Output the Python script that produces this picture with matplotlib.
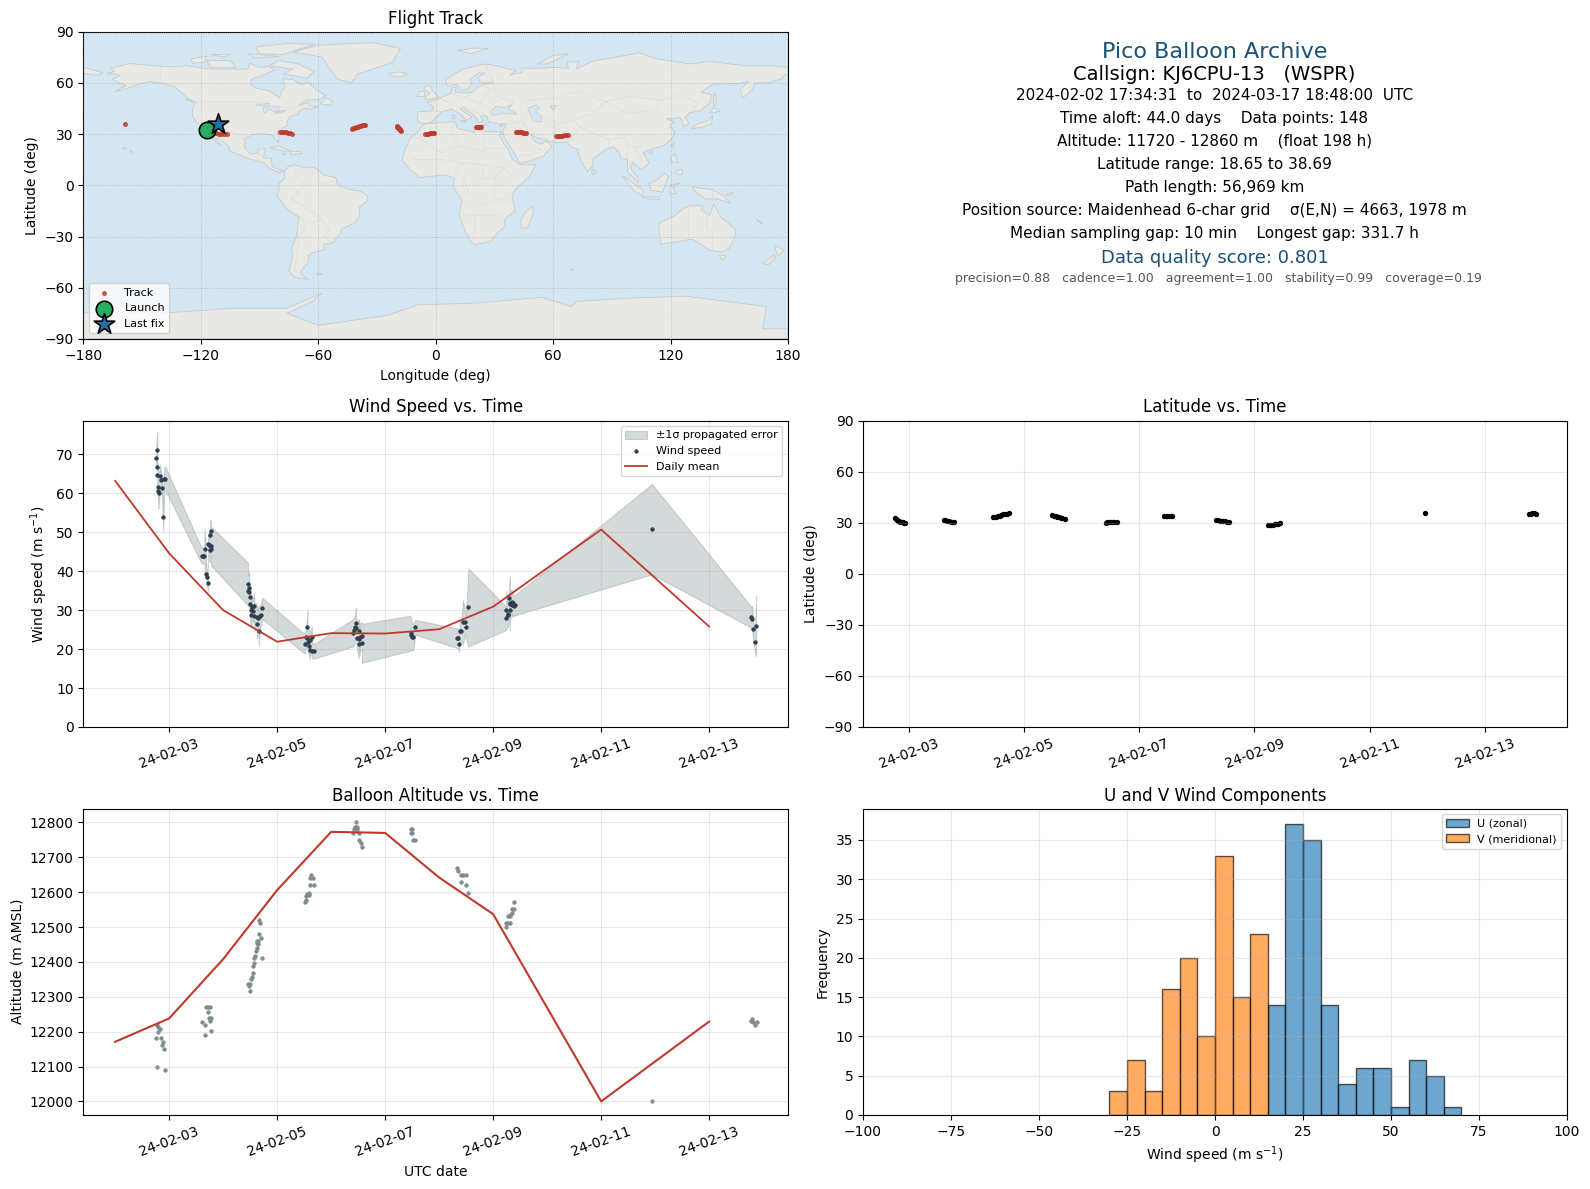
import datetime
import numpy as np
import matplotlib
matplotlib.use('Agg')
import matplotlib.pyplot as plt
import matplotlib.dates as mdates
from matplotlib.patches import Polygon

W, H = 1590, 1189

# wind speed points: day of February, speed, sigma
wind_day = [2.76, 2.78, 2.78, 2.78, 2.80, 2.80, 2.81, 2.83, 2.85, 2.87, 2.89, 2.91, 2.93,
            3.60, 3.62, 3.65, 3.66, 3.69, 3.70, 3.72, 3.72, 3.74, 3.75, 3.76, 3.77, 3.77, 3.78,
            4.46, 4.46, 4.48, 4.48, 4.50, 4.50, 4.51, 4.52, 4.53, 4.56, 4.57, 4.58, 4.62, 4.63,
            4.65, 4.66, 4.68, 4.70, 4.72,
            5.51, 5.54, 5.56, 5.56, 5.58, 5.59, 5.60, 5.60, 5.64, 5.65, 5.69,
            6.41, 6.43, 6.44, 6.46, 6.46, 6.48, 6.51, 6.52, 6.52, 6.54, 6.57, 6.57,
            7.47, 7.48, 7.50, 7.52, 7.56,
            8.33, 8.35, 8.37, 8.38, 8.41, 8.44, 8.48, 8.50, 8.54,
            9.24, 9.24, 9.27, 9.28, 9.30, 9.31, 9.31, 9.32, 9.34, 9.34, 9.36, 9.37, 9.39, 9.41,
            11.94,
            13.78, 13.80, 13.81, 13.85, 13.87]
wind_speed = [69.1, 71.2, 66.8, 64.8, 61.7, 60.7, 60.2, 64.5, 63.5, 61.4, 53.8, 63.8, 63.8,
              44.0, 44.0, 44.0, 45.8, 39.2, 38.4, 36.9, 46.9, 46.7, 45.4, 49.2, 50.3, 45.8, 46.4,
              36.7, 34.9, 35.8, 34.6, 33.3, 31.5, 30.1, 28.8, 30.9, 29.7, 31.0, 28.5, 28.2, 26.4,
              28.1, 24.7, 28.5, 28.7, 30.5,
              21.3, 23.2, 25.6, 22.8, 21.9, 20.7, 22.4, 19.8, 23.0, 19.6, 19.5,
              24.2, 24.9, 25.6, 26.6, 25.4, 22.9, 22.7, 24.7, 21.3, 23.2, 23.4, 21.5,
              24.1, 23.7, 23.2, 23.1, 25.6,
              22.8, 22.8, 21.3, 24.6, 24.6, 26.9, 26.9, 25.6, 30.7,
              27.9, 30.0, 28.8, 29.0, 33.0, 31.8, 30.0, 31.7, 32.2, 31.2, 31.9, 31.3, 31.1, 31.3,
              50.8,
              28.2, 27.8, 25.1, 21.8, 25.9]
wind_sigma = [2.5, 4.5, 3.0, 3.0, 5.6, 3.0, 3.0, 3.0, 2.0, 2.5, 3.7, 3.0, 3.0,
              2.0, 2.0, 2.0, 5.1, 2.0, 2.0, 2.1, 3.0, 3.0, 3.0, 3.0, 3.0, 3.0, 5.0,
              5.5, 4.0, 4.0, 3.5, 3.0, 4.0, 3.5, 3.5, 3.0, 3.0, 3.5, 3.5, 3.5, 3.5,
              3.0, 3.8, 3.0, 2.7, 2.7,
              2.5, 2.5, 4.3, 3.0, 3.0, 2.5, 2.5, 2.5, 3.0, 2.0, 1.9,
              3.5, 3.5, 3.0, 4.1, 3.5, 3.0, 5.0, 3.0, 3.0, 3.5, 3.5, 5.0,
              4.5, 4.0, 3.5, 3.4, 1.9,
              2.5, 2.5, 2.1, 2.5, 2.5, 5.7, 3.0, 3.0, 10.0,
              3.0, 4.9, 3.0, 3.0, 4.4, 7.0, 3.0, 3.5, 3.0, 3.0, 3.0, 2.8, 2.7, 2.6,
              11.6,
              2.7, 3.2, 2.5, 3.0, 7.7]

# daily means
wind_mean_day = [2, 3, 4, 5, 6, 7, 8, 9, 11, 13]
wind_mean = [63.2, 44.6, 30.0, 21.9, 24.1, 24.0, 25.1, 30.9, 50.7, 25.8]
alt_mean = [12171, 12238, 12408, 12606, 12773, 12770, 12642, 12537, 12000, 12229]

# altitude points
alt_day = [2.76, 2.78, 2.78, 2.80, 2.80, 2.83, 2.85, 2.87, 2.89, 2.91, 2.93,
           3.61, 3.66, 3.67, 3.68, 3.72, 3.72, 3.74, 3.76, 3.76, 3.78, 3.78,
           4.46, 4.48, 4.49, 4.50, 4.51, 4.53, 4.56, 4.56, 4.57, 4.57, 4.59, 4.60, 4.62, 4.62,
           4.63, 4.65, 4.65, 4.67, 4.67, 4.69, 4.70, 4.72,
           5.51, 5.53, 5.54, 5.56, 5.59, 5.59, 5.60, 5.61, 5.62, 5.67, 5.69,
           6.41, 6.43, 6.44, 6.46, 6.47, 6.48, 6.51, 6.52, 6.55, 6.57,
           7.47, 7.47, 7.49, 7.49, 7.52, 7.56,
           8.33, 8.35, 8.40, 8.41, 8.44, 8.49, 8.50, 8.54,
           9.23, 9.24, 9.27, 9.28, 9.31, 9.31, 9.31, 9.34, 9.35, 9.38, 9.38,
           11.94,
           13.78, 13.79, 13.81, 13.85, 13.88]
alt_m = [12181, 12219, 12100, 12212, 12200, 12209, 12181, 12162, 12169, 12149, 12089,
         12229, 12219, 12189, 12271, 12271, 12257, 12238, 12271, 12230, 12238, 12201,
         12338, 12331, 12338, 12318, 12350, 12357, 12389, 12369, 12410, 12396, 12418, 12431, 12461, 12453,
         12441, 12461, 12451, 12520, 12479, 12511, 12470, 12410,
         12571, 12579, 12589, 12595, 12599, 12592, 12620, 12640, 12648, 12640, 12620,
         12769, 12780, 12788, 12800, 12780, 12788, 12769, 12750, 12740, 12729,
         12781, 12769, 12781, 12769, 12749, 12749,
         12668, 12660, 12648, 12628, 12648, 12648, 12620, 12599,
         12511, 12500, 12531, 12511, 12535, 12531, 12511, 12540, 12552, 12572, 12552,
         12000,
         12231, 12235, 12227, 12219, 12229]

# track: day of February, latitude, longitude
track_day = [2.76, 2.78, 2.80, 2.82, 2.84, 2.86, 2.88, 2.90, 2.92, 2.94,
             3.61, 3.64, 3.67, 3.70, 3.73, 3.76, 3.78,
             4.46, 4.49, 4.52, 4.55, 4.58, 4.61, 4.64, 4.67, 4.70, 4.74,
             5.49, 5.52, 5.55, 5.58, 5.61, 5.64, 5.67, 5.71,
             6.42, 6.45, 6.48, 6.51, 6.54, 6.57, 6.61,
             7.43, 7.46, 7.49, 7.52, 7.55, 7.57,
             8.34, 8.37, 8.40, 8.43, 8.46, 8.49, 8.52, 8.56,
             9.23, 9.26, 9.29, 9.32, 9.35, 9.38, 9.41, 9.44,
             11.95,
             13.76, 13.79, 13.82, 13.85, 13.89]
track_lat = [32.5, 32.1, 31.6, 31.1, 30.7, 30.4, 30.2, 30.1, 30.0, 30.0,
             31.4, 31.3, 31.1, 30.9, 30.6, 30.4, 30.2,
             33.1, 33.3, 33.6, 33.9, 34.2, 34.5, 34.8, 35.0, 35.3, 35.5,
             34.5, 34.2, 33.9, 33.6, 33.2, 32.9, 32.6, 32.0,
             30.0, 30.1, 30.2, 30.4, 30.5, 30.5, 30.6,
             34.0, 34.1, 34.2, 34.2, 34.1, 34.0,
             31.4, 31.3, 31.2, 31.1, 31.0, 30.8, 30.6, 30.4,
             28.6, 28.7, 28.8, 28.9, 29.1, 29.3, 29.4, 29.6,
             35.9,
             35.3, 35.3, 35.4, 35.4, 35.3]
track_lon = [-116.9, -116.0, -115.0, -114.0, -113.0, -112.0, -110.5, -109.5, -108.0, -106.6,
             -79.6, -78.6, -77.6, -76.6, -75.5, -74.4, -73.3,
             -42.7, -42.0, -41.2, -40.5, -39.8, -39.0, -38.3, -37.5, -36.8, -36.0,
             -20.0, -19.7, -19.4, -19.0, -18.7, -18.3, -18.0, -17.5,
             -5.2, -4.5, -3.8, -3.0, -2.2, -1.4, -0.6,
             20.6, 21.0, 21.5, 22.0, 22.5, 23.0,
             41.0, 41.8, 42.5, 43.2, 44.0, 44.7, 45.5, 46.3,
             61.5, 62.4, 63.2, 64.0, 64.8, 65.6, 66.5, 67.5,
             -158.8,
             -114.0, -113.2, -112.3, -111.5, -111.1]
launch_lon, launch_lat = -116.9, 32.3
last_lon, last_lat = -111.1, 35.7

# histogram counts
u_left = [15, 20, 25, 30, 35, 40, 45, 50, 55, 60, 65]
u_count = [14, 37, 35, 14, 4, 6, 6, 1, 7, 5, 1]
v_left = [-30, -25, -20, -15, -10, -5, 0, 5, 10]
v_count = [3, 7, 3, 16, 20, 10, 33, 15, 23]

# coarse coastlines (lon, lat)
north_america = [(-168, 65.5), (-164, 66.5), (-166, 68.5), (-156.5, 71.3), (-141, 69.7), (-135, 69.3), (-128, 70),
                 (-115, 68), (-108, 68), (-96, 68), (-95, 71.5), (-90, 69), (-85, 69.5), (-82, 67.5), (-87, 65),
                 (-94, 62), (-94.5, 58.8), (-92, 57), (-85, 55.3), (-82, 53), (-80, 51.3), (-79, 52.5), (-79, 55),
                 (-77, 57), (-78, 62.3), (-73, 62), (-69, 59), (-65, 60.2), (-61, 56), (-56, 52.5), (-60, 50),
                 (-66, 50), (-70, 47), (-65, 48.5), (-64.5, 46.5), (-60, 46), (-64, 44.5), (-67, 45), (-70, 43.5),
                 (-70, 41.7), (-74, 40.5), (-76, 37), (-75.5, 35.3), (-81, 31.5), (-80, 27), (-80.5, 25.2), (-82, 27),
                 (-83, 29.2), (-85, 29.7), (-89, 30.2), (-94, 29.5), (-97.3, 27.5), (-97.7, 22.3), (-95, 18.7),
                 (-91, 18.7), (-90.5, 21), (-87, 21.5), (-88, 16), (-84, 15.8), (-83.5, 11), (-80, 9), (-77.3, 8.6),
                 (-80, 7.3), (-85, 10), (-87.5, 13), (-92, 14.5), (-96, 15.8), (-105, 20), (-105.5, 22.5), (-109, 26),
                 (-112.5, 30), (-114.7, 31.7), (-112.5, 27.5), (-109.7, 23), (-112, 25), (-115, 29), (-117, 32.5),
                 (-120.5, 34.5), (-122.5, 37.5), (-124.3, 40.3), (-124, 46), (-122.5, 48.5), (-127, 51), (-130, 54.5),
                 (-134, 58), (-140, 59.7), (-146, 60.8), (-152, 59), (-158, 56.5), (-164, 54.7), (-158, 58.5),
                 (-162, 60), (-165, 62), (-161, 64.5)]
south_america = [(-77.3, 8.6), (-75, 11), (-72, 12), (-68, 10.5), (-62, 10.5), (-57, 6), (-51, 4.5), (-50, 0),
                 (-44, -2.5), (-38, -3.5), (-35, -6), (-35, -9), (-39, -13), (-39, -18), (-41, -22), (-48, -25.5),
                 (-48.5, -28), (-53, -34), (-57, -34.5), (-57, -38), (-62, -39), (-65, -41), (-65, -45), (-69, -50.5),
                 (-68, -53), (-65, -55), (-72, -54), (-75, -50), (-73, -42), (-73.5, -37), (-71, -30), (-70, -18.5),
                 (-76, -14), (-81, -6), (-80, -2), (-80, 1), (-77, 4)]
africa = [(-6, 35.8), (3, 36.8), (10, 37.3), (11, 33.5), (15, 32.3), (20, 31), (20, 32.8), (25, 31.6), (32, 31.2),
          (34.2, 31.2), (32.5, 29.5), (35, 24), (37, 21), (39, 15.5), (43, 12), (51, 12), (48, 5), (41, -2), (39, -6),
          (40.5, -15), (35, -20), (35.5, -24), (32.5, -27), (28, -33), (20, -34.8), (18, -33), (15, -27), (12, -17),
          (13.5, -9), (9, -1), (9.5, 4), (5, 6), (-4, 5), (-8, 4.5), (-13, 9), (-17, 14.7), (-16, 20), (-13, 27.5),
          (-9.5, 31)]
eurasia = [(-9, 37), (-9.5, 39), (-9, 43), (-2, 43.5), (-1, 46), (-4.5, 48.5), (1.5, 50.5), (4, 52), (8, 54), (8.5, 57),
           (10.5, 57.5), (10, 54.5), (14, 54), (19, 54.5), (21, 57), (24, 59), (29.5, 60), (23, 60), (21.5, 63),
           (25, 65.5), (22, 65.8), (17.5, 62), (18.5, 59.5), (16.5, 56.5), (13, 55.5), (11, 59), (6, 58), (5, 62),
           (14, 68), (25, 71), (31, 70), (41, 67), (38, 64.5), (44, 66), (44, 68.5), (54, 68.5), (60, 69), (68, 68.5),
           (67, 72), (73, 72.5), (72, 68), (80, 72.5), (104, 77.5), (113, 74), (130, 71), (140, 72.5), (160, 69.7),
           (170, 70), (180, 69), (180, 65), (178, 64.5), (177, 62.5), (170, 60), (163, 60), (162, 56), (156.7, 51),
           (155.5, 56), (160, 61), (155, 59.5), (142, 59.3), (135.5, 54.5), (141, 53), (140, 48), (135, 43.5),
           (130, 42.5), (127.5, 39.8), (129.5, 36), (126.5, 34.5), (126, 37.5), (125, 39.5), (121.5, 39), (118, 39),
           (122, 37), (119.5, 35), (122, 31), (121, 28), (117, 23.5), (110, 21), (106, 19), (109, 13), (105, 9),
           (103, 11), (100.5, 13.5), (99.5, 10), (103.5, 4), (103.5, 1.5), (100.5, 5), (98, 8), (98, 15), (94.5, 16),
           (94, 19), (91, 22.5), (87, 21), (80.5, 15.5), (80, 11), (77.5, 8), (73.5, 16), (72.7, 21), (69, 22.5),
           (67, 25), (61.5, 25), (57, 26), (56, 27), (52, 27.5), (48.5, 30), (50, 26.5), (51.5, 25), (54, 24),
           (56.5, 26), (59.5, 22.5), (55, 17), (45, 13), (43, 13), (39, 21), (35, 28), (34.9, 29.5), (34.2, 31.2),
           (36, 36), (32, 36), (27, 37), (26.5, 39.5), (26, 40.5), (23, 40.5), (24, 38), (22.5, 36.5), (19.5, 41),
           (14, 45.5), (12.5, 44.5), (18.5, 40), (16, 38), (12, 42), (8.5, 44.5), (3, 43), (0, 39.5), (-2, 37),
           (-5.5, 36)]
greenland = [(-73, 78), (-60, 82), (-32, 83.5), (-18, 80), (-22, 72), (-32, 68), (-40, 65), (-43, 60), (-50, 62), (-54, 68), (-58, 75)]
australia = [(114, -22), (122, -18), (126, -14), (130, -12), (136, -12), (136, -15), (140, -17.5), (142, -11), (146, -19),
             (153, -25.5), (153, -30), (150, -37), (146, -39), (140, -38), (136, -35), (131, -31.5), (124, -33), (115, -34.5), (114, -26)]
antarctica = [(-180, -90), (-180, -74.5), (-135, -74.5), (-103, -72), (-76, -72), (-62, -65), (-58, -63), (-63, -68),
              (-76, -75), (-60, -82), (-24, -76), (-9, -70), (20, -69), (54, -65.6), (69.5, -71), (72, -68), (100, -66),
              (128, -65), (169, -71), (167, -84), (180, -84), (180, -90)]
islands = [
    [(-80, 73), (-70, 71), (-62, 66.5), (-66, 62.5), (-72, 64), (-78, 65), (-73, 68), (-85, 70)],
    [(-117, 73), (-105, 73), (-102, 69), (-115, 69)],
    [(-90, 77), (-78, 76.5), (-62, 82.5), (-75, 83), (-92, 81)],
    [(-125, 74), (-117, 75.5), (-118, 72), (-124, 71.5)],
    [(-96, 77), (-80, 75.5), (-92, 74.5)],
    [(-115, 76.5), (-105, 76.5), (-108, 75)],
    [(-59, 47.7), (-53, 46.7), (-53, 49.5), (-56, 51.5)],
    [(-128, 50.5), (-124, 48.5), (-125, 50)],
    [(-85, 22), (-80, 23), (-74, 20), (-78, 20)],
    [(-74, 19.8), (-69, 19.8), (-68.5, 18.5), (-74, 18)],
    [(-78.3, 18.4), (-76.3, 18.2), (-77, 17.8)],
    [(-5.5, 50), (1.5, 51.2), (0, 53.5), (-2, 56), (-2, 57.6), (-5, 58.6), (-6, 56), (-3, 54), (-5, 52)],
    [(-10, 52), (-6, 52), (-6, 55), (-8.5, 55)],
    [(-24, 65.5), (-18, 66.4), (-14, 65), (-18, 63.4), (-22.5, 64)],
    [(11, 79), (20, 80.3), (27, 80), (18, 77)],
    [(52, 71), (57, 71), (68, 77), (60, 76)],
    [(12.5, 38), (15.5, 38), (15, 36.7)],
    [(8.3, 41), (9.7, 41), (9.5, 39), (8.5, 39)],
    [(23.5, 35.5), (26, 35.2), (24, 34.9)],
    [(32.5, 35), (34.5, 35.6), (33.5, 34.6)],
    [(130.5, 33), (136, 34), (141, 36), (141.5, 41), (139.5, 38), (133, 35.5)],
    [(140, 42), (145.5, 43.5), (142, 45.5)],
    [(142, 46), (143.5, 49), (143, 54), (142, 52)],
    [(120, 23), (121, 22), (122, 25)],
    [(109, 19.5), (111, 20), (110, 18.3)],
    [(120, 16), (122, 18.5), (124, 13), (120.5, 14)],
    [(122, 7), (126, 6), (126, 9.5), (123, 8.5)],
    [(80, 9.5), (82, 7.5), (80.5, 6), (79.7, 8)],
    [(95.5, 5.5), (100, 2), (106, -3), (105.5, -6), (101, -3)],
    [(105.5, -6.5), (114, -7), (114.5, -8.5), (106, -7.5)],
    [(109, 1), (113, 3), (117, 7), (119, 5), (117.5, 1), (116, -4), (110, -3)],
    [(119.5, -5), (120, 0), (125, 1.5), (121, -1), (123, -5)],
    [(131, -1), (141, -2.5), (147, -6), (150.5, -10.5), (144, -8), (138, -8), (133, -4)],
    [(148, -5.5), (152, -4), (151, -6)],
    [(145, -41), (148, -41), (147.5, -43.5), (146, -43.5)],
    [(173, -35), (178, -38), (175, -41.5), (174, -39)],
    [(172.5, -41), (174, -42), (170, -46.5), (167, -46)],
    [(165, -21), (167, -22.3), (164, -20)],
    [(49.5, -12), (50, -16), (47, -25), (44, -25), (43.5, -21), (46, -15.5)],
    [(-61, -51.5), (-58, -51.5), (-58.5, -52.3), (-61, -52)],
    [(-156.2, 20.2), (-155, 19.6), (-155.8, 19)],
    [(-160, 22), (-157.8, 21.5), (-158.5, 21.2)],
    [(-180, 69), (-170, 66), (-173, 64.3), (-180, 65.5)],
    [(69, -49), (70.5, -49.2), (69.5, -49.8)],
]
inland_seas = [
    [(28, 43), (30.5, 46), (33, 46), (35, 45.5), (39, 47), (37, 45), (41.5, 41.5), (35, 42), (29, 41)],
    [(47, 45), (51, 47), (53, 45), (51, 43), (54, 40), (54, 37), (50, 37.5), (49, 40)],
    [(-92, 47), (-85, 48), (-85, 46.5), (-88, 46.5)],
    [(-88, 45.5), (-85, 46), (-80, 46), (-80, 43.5), (-83, 43), (-85, 45), (-87, 42), (-88, 43)],
    [(-83, 42), (-79, 43.5), (-76, 44), (-79, 42.5)],
    [(58.5, 46.5), (61.5, 46.5), (60, 44)],
]
borders = [
    [(-123, 49), (-95, 49), (-83, 46), (-75, 45), (-67, 47)], [(-141, 70), (-141, 60)],
    [(-117, 32.5), (-106.5, 31.7), (-101, 29.5), (-97.3, 26)], [(-92, 14.5), (-91, 18), (-88, 18)],
    [(-72, 12), (-72, 7), (-67, 1), (-70, -4), (-74, -8), (-69, -11), (-58, -20), (-54, -26), (-57, -30), (-53, -34)],
    [(-80, -3), (-75, -1), (-70, -4)], [(-70, -18), (-66, -22), (-70, -32), (-72, -50), (-68, -53)],
    [(-60, 8), (-60, 1), (-52, 2)], [(-58, -20), (-62, -22), (-66, -22)],
    [(-8.7, 27.5), (-3, 31), (-2, 35)], [(-13, 27.5), (-8.7, 27.5), (-5, 25), (3, 19), (12, 23), (25, 20), (25, 31.6)],
    [(-12, 15), (-5, 15), (3, 15), (14, 13), (24, 12), (34, 10), (41, 4)], [(9, 37), (8, 31), (12, 23)],
    [(25, 22), (37, 22)], [(14, 13), (9, 4)], [(24, 12), (24, 4), (30, 4), (34, 10)], [(14, 5), (17, -5), (13, -6)],
    [(12, -17), (24, -18), (35, -17)], [(20, -18), (20, -28), (17, -29)], [(30, -8), (40, -10)], [(30, 4), (30, -8), (24, -12)],
    [(-2, 43.5), (3, 43)], [(2, 51), (8, 48), (7, 44)], [(8, 54), (15, 51), (19, 54.5)], [(15, 51), (23, 48), (28, 45)],
    [(24, 59), (28, 56), (24, 51), (23, 48)], [(29.5, 60), (31, 52), (40, 49), (38, 47)], [(13, 47), (22, 42), (26, 41)],
    [(25, 71), (29, 62), (29.5, 60)], [(47, 50), (62, 51), (72, 55), (87, 49)], [(54, 41), (62, 36), (70, 38), (80, 42), (87, 49)],
    [(87, 49), (98, 52), (116, 50), (125, 53), (134, 48), (131, 43)], [(87, 49), (98, 42), (112, 44), (116, 50)],
    [(44, 39), (46, 35), (48.5, 30)], [(36, 36), (44, 37), (46, 35)], [(36, 33), (41, 32), (47, 29)], [(52, 22), (55, 20)], [(43, 17), (52, 19)],
    [(61, 36), (61, 30), (61.5, 25)], [(70, 38), (74, 34), (67, 25)], [(74, 34), (79, 31), (88, 27), (97, 28), (98, 24), (102, 22), (106, 23)],
    [(98, 24), (98, 15)], [(102, 22), (105, 15), (105, 11)], [(88, 27), (88, 22)],
    [(141, -2.5), (141, -9)], [(129, -14), (129, -31)], [(138, -16), (138, -26), (141, -26), (141, -38)],
]


def to_dates(days):
    # days are days of February 2024
    start = mdates.date2num(datetime.datetime(2024, 2, 1))
    return start + np.array(days, dtype=float) - 1


def px_axes(left, right, top, bottom):
    return fig.add_axes([left / W, 1 - bottom / H, (right - left) / W, (bottom - top) / H])


def date_axis(ax, xlim_days):
    ax.set_xlim(to_dates(xlim_days))
    ax.xaxis.set_major_locator(mdates.DayLocator(bymonthday=range(3, 30, 2)))
    ax.xaxis.set_major_formatter(mdates.DateFormatter('%y-%m-%d'))
    ax.tick_params(axis='x', labelrotation=20)
    ax.grid(True, alpha=0.3)


fig = plt.figure(figsize=(W / 100, H / 100), dpi=100)

RED = '#c0392b'
GREY = '#7f8c8d'
DARK = '#2c3e50'
TITLE_BLUE = '#1a5276'

# Flight track
ax = px_axes(83.3, 788, 31.5, 339)
ax.set_facecolor('#d4e6f1')
for poly in [north_america, south_america, africa, eurasia, greenland, australia, antarctica] + islands:
    ax.add_patch(Polygon(poly, closed=True, facecolor='#e8e8e4', edgecolor='#c6cccd', linewidth=0.6, zorder=1))
for poly in inland_seas:
    ax.add_patch(Polygon(poly, closed=True, facecolor='#d4e6f1', edgecolor='#c6cccd', linewidth=0.5, zorder=1.1))
for line in borders:
    xs, ys = zip(*line)
    ax.plot(xs, ys, color='#dcdcd8', linewidth=0.5, zorder=1.2)
ax.scatter(track_lon, track_lat, s=13, color=RED, alpha=0.85, linewidths=0, zorder=3, label='Track')
ax.scatter([launch_lon], [launch_lat], s=140, color='#27ae60', edgecolor='black', linewidth=1.2, zorder=4, label='Launch')
ax.scatter([last_lon], [last_lat], s=240, marker='*', color='#1f6fa8', edgecolor='black', linewidth=1.2, zorder=5, label='Last fix')
ax.set_xlim(-180, 180)
ax.set_ylim(-90, 90)
ax.set_xticks(np.arange(-180, 181, 60))
ax.set_yticks(np.arange(-90, 91, 30))
ax.grid(True, color='#909090', linestyle=':', linewidth=0.6, alpha=0.5, zorder=2)
ax.set_axisbelow(False)
ax.set_xlabel('Longitude (deg)', labelpad=4.4)
ax.set_ylabel('Latitude (deg)')
ax.set_title('Flight Track', pad=5.6)
ax.legend(loc='lower left', fontsize=8)

# Summary text
ax = px_axes(863, 1567, 31.5, 339)
ax.axis('off')
summary = [
    ('Pico Balloon Archive', 51.5, 1215, 16, TITLE_BLUE),
    ('Callsign: KJ6CPU-13   (WSPR)', 74.5, 1214, 14, 'black'),
    ('2024-02-02 17:34:31  to  2024-03-17 18:48:00  UTC', 95.5, 1215, 11, 'black'),
    ('Time aloft: 44.0 days    Data points: 148', 118.5, 1214, 11, 'black'),
    ('Altitude: 11720 - 12860 m    (float 198 h)', 141.5, 1215, 11, 'black'),
    ('Latitude range: 18.65 to 38.69', 164.5, 1214, 11, 'black'),
    ('Path length: 56,969 km', 187.5, 1215, 11, 'black'),
    ('Position source: Maidenhead 6-char grid    σ(E,N) = 4663, 1978 m', 210.5, 1214, 11, 'black'),
    ('Median sampling gap: 10 min    Longest gap: 331.7 h', 233.5, 1214, 11, 'black'),
    ('Data quality score: 0.801', 258, 1215, 13, TITLE_BLUE),
    ('precision=0.88   cadence=1.00   agreement=1.00   stability=0.99   coverage=0.19', 279, 1218, 9, '#555555'),
]
for line, y_px, x_px, size, colour in summary:
    fig.text(x_px / W, 1 - y_px / H, line, fontsize=size, color=colour, ha='center', va='center')

# Wind speed
ax = px_axes(83.3, 788, 420.5, 727)
order = np.argsort(to_dates(wind_day), kind='stable')
t = to_dates(wind_day)[order]
speed = np.array(wind_speed)[order]
sigma = np.array(wind_sigma)[order]
ax.fill_between(t, speed - sigma, speed + sigma, color=GREY, alpha=0.33, linewidth=0.8, label='±1σ propagated error')
ax.scatter(t, speed, s=7, color=DARK, linewidths=0.4, zorder=3, label='Wind speed')
ax.plot(to_dates(wind_mean_day), wind_mean, color=RED, linewidth=1.3, zorder=4, label='Daily mean')
ax.set_ylim(0, 78.7)
date_axis(ax, [1.41, 14.46])
ax.set_ylabel('Wind speed (m s$^{-1}$)')
ax.set_title('Wind Speed vs. Time')
ax.legend(loc='upper right', fontsize=8)

# Latitude
ax = px_axes(863, 1567, 420.5, 727)
ax.scatter(to_dates(track_day), track_lat, s=8, color='black')
ax.set_ylim(-90, 90)
ax.set_yticks(np.arange(-90, 91, 30))
date_axis(ax, [2.21, 14.42])
ax.set_ylabel('Latitude (deg)')
ax.set_title('Latitude vs. Time')

# Altitude
ax = px_axes(83.3, 788, 808.5, 1115)
ax.scatter(to_dates(alt_day), alt_m, s=7, color=GREY, linewidths=0.4)
ax.plot(to_dates(wind_mean_day), alt_mean, color=RED, linewidth=1.5)
ax.set_ylim(11961, 12840)
ax.set_yticks(np.arange(12000, 12801, 100))
date_axis(ax, [1.41, 14.46])
ax.set_xlabel('UTC date', labelpad=4.4)
ax.set_ylabel('Altitude (m AMSL)')
ax.set_title('Balloon Altitude vs. Time', pad=5.6)

# U and V histogram
ax = px_axes(863, 1567, 808.5, 1115)
ax.bar(u_left, u_count, width=5, align='edge', color='tab:blue', alpha=0.65, edgecolor='black', label='U (zonal)')
ax.bar(v_left, v_count, width=5, align='edge', color='tab:orange', alpha=0.65, edgecolor='black', label='V (meridional)')
ax.set_xlim(-100, 100)
ax.set_ylim(0, 39)
ax.set_xticks(np.arange(-100, 101, 25))
ax.grid(True, alpha=0.3)
ax.set_xlabel('Wind speed (m s$^{-1}$)', labelpad=4.4)
ax.set_ylabel('Frequency')
ax.set_title('U and V Wind Components', pad=5.6)
ax.legend(loc='upper right', fontsize=8)

fig.savefig('out.png', dpi=100)
